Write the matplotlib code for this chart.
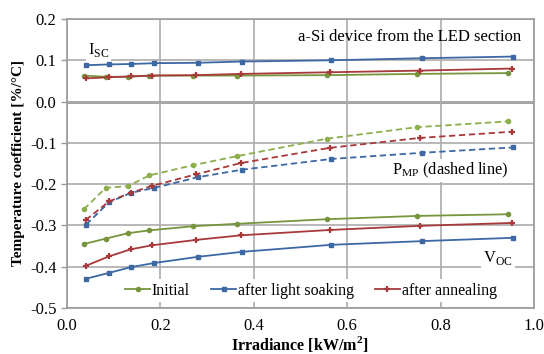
import matplotlib
matplotlib.use("Agg")
import matplotlib.pyplot as plt
from matplotlib.ticker import MultipleLocator, FormatStrFormatter

plt.rcParams.update({
    "font.family": ["Liberation Serif", "DejaVu Serif"],
    "mathtext.fontset": "custom",
    "mathtext.rm": "Liberation Serif",
    "mathtext.bf": "Liberation Serif:bold",
})

# irradiance (kW/m2) per series
x_initial = [0.036, 0.083, 0.130, 0.176, 0.270, 0.365, 0.556, 0.749, 0.944]
x_soak = [0.041, 0.090, 0.137, 0.187, 0.281, 0.375, 0.566, 0.761, 0.956]
x_anneal = [0.040, 0.090, 0.136, 0.183, 0.277, 0.372, 0.563, 0.756, 0.953]

# temperature coefficients [%/°C]
isc_initial = [0.063, 0.060, 0.060, 0.063, 0.063, 0.063, 0.064, 0.067, 0.069]
isc_soak = [0.088, 0.090, 0.091, 0.093, 0.094, 0.097, 0.100, 0.105, 0.109]
isc_anneal = [0.056, 0.059, 0.061, 0.063, 0.064, 0.067, 0.071, 0.075, 0.080]

pmp_initial = [-0.261, -0.209, -0.205, -0.179, -0.154, -0.132, -0.090, -0.062, -0.048]
pmp_soak = [-0.298, -0.244, -0.221, -0.209, -0.183, -0.165, -0.139, -0.124, -0.111]
pmp_anneal = [-0.287, -0.242, -0.221, -0.204, -0.176, -0.149, -0.112, -0.088, -0.073]

voc_initial = [-0.345, -0.332, -0.319, -0.312, -0.302, -0.296, -0.285, -0.277, -0.273]
voc_soak = [-0.429, -0.415, -0.401, -0.391, -0.376, -0.364, -0.347, -0.338, -0.330]
voc_anneal = [-0.398, -0.375, -0.358, -0.348, -0.335, -0.324, -0.311, -0.301, -0.294]

labels = ["Initial", "after light soaking", "after annealing"]

green = "#77953D"
green_dash = "#8CAF4C"
blue = "#3C68A4"
red = "#A7393A"

fig = plt.figure(figsize=(5.44, 3.54), dpi=100)
ax = fig.add_axes([0.1232, 0.130, 0.8584, 0.8163])

series = [
    (x_initial, isc_initial, pmp_initial, voc_initial, green, green_dash, "o", 3.0, 1.0),
    (x_soak, isc_soak, pmp_soak, voc_soak, blue, blue, "s", 3.2, 1.0),
    (x_anneal, isc_anneal, pmp_anneal, voc_anneal, red, red, "+", 4.5, 1.6),
]

handles = []
for (x, isc, pmp, voc, c, cd, m, ms, mew), lab in zip(series, labels):
    h, = ax.plot(x, voc, color=c, lw=1.3, marker=m, ms=ms, mew=mew,
                 mec=c, mfc=c, label=lab, zorder=3)
    ax.plot(x, isc, color=c, lw=1.3, marker=m, ms=ms, mew=mew, mec=c, mfc=c, zorder=3)
    ax.plot(x, pmp, color=cd, lw=1.3, ls=(0, (3.5, 2)), marker=m, ms=ms, mew=mew,
            mec=cd, mfc=cd, zorder=3)
    handles.append(h)

ax.set_xlim(0, 1.0)
ax.set_ylim(-0.5, 0.2)
ax.xaxis.set_major_locator(MultipleLocator(0.2))
ax.yaxis.set_major_locator(MultipleLocator(0.1))
ax.xaxis.set_major_formatter(FormatStrFormatter("%.1f"))
ax.yaxis.set_major_formatter(plt.FuncFormatter(lambda v, p: f"{v:.1f}" if abs(v) > 1e-9 else "0.0"))
ax.grid(True, color="#ABABAB", lw=1.2, zorder=0)
ax.axhline(0, color="#9A9A9A", lw=2.0, zorder=1)
for s in ax.spines.values():
    s.set_color("#9A9A9A")
    s.set_linewidth(1.2)
ax.tick_params(axis="both", colors="#9A9A9A", labelcolor="black", labelsize=12, length=4, width=1)
ax.tick_params(axis="x", length=0, pad=7)

ax.set_ylabel("Temperature coefficient [%/°C]", fontsize=11, fontweight="bold", labelpad=4)
fig.text(0.5515, 1 - 343.5 / 354, "Irradiance [kW/m$^\\mathbf{2}$]", fontsize=11.5,
         fontweight="bold", ha="center", va="center")

box = dict(facecolor="white", edgecolor="none", pad=1.5)
ax.text(0.045, 0.125, "I$_{\\mathrm{SC}}$", fontsize=12, ha="left", va="center", bbox=box, zorder=2)
ax.text(0.973, 0.157, "a-Si device from the LED section", fontsize=12, ha="right", va="center", zorder=2)
ax.text(0.945, -0.1665, "P$_{\\mathrm{MP}}$ (dashed line)", fontsize=11.8, ha="right", va="center", bbox=box, zorder=2)
ax.text(0.955, -0.378, "V$_{\\mathrm{OC}}$", fontsize=12, ha="right", va="center", bbox=box, zorder=2)

leg = ax.legend(handles=handles, loc="center", bbox_to_anchor=(0.522, 0.06), ncol=3,
                fontsize=11.5, frameon=True, fancybox=False, edgecolor="none",
                framealpha=1, handlelength=1.6, handletextpad=0.1, columnspacing=1.3,
                borderpad=0.2)
leg.set_zorder(5)

fig.savefig("out.png", dpi=100)
